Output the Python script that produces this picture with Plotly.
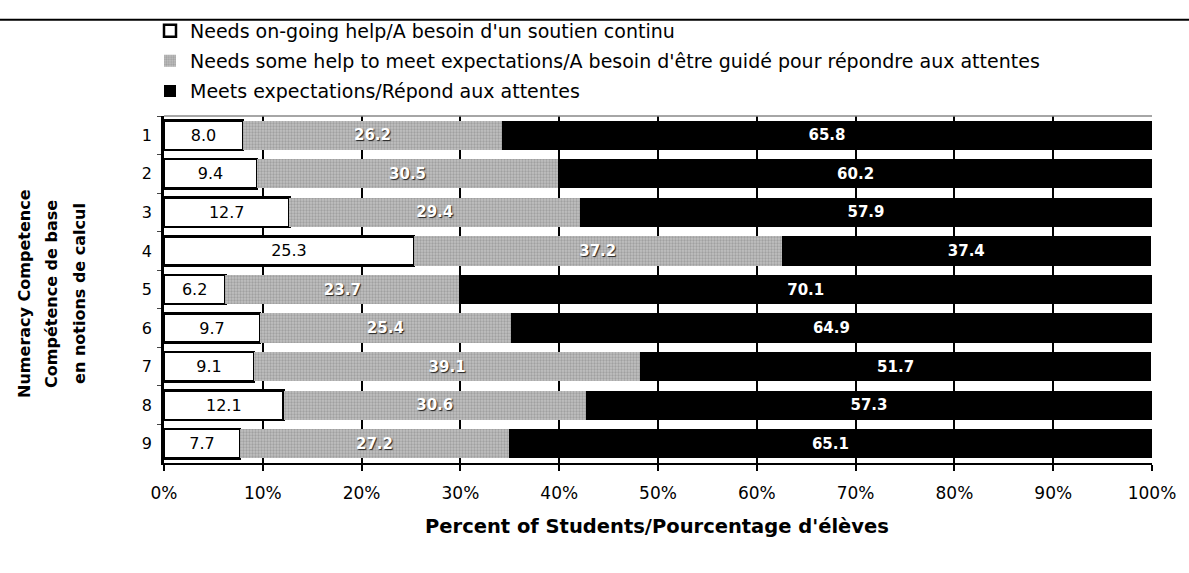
import plotly.graph_objects as go

competences = ["1", "2", "3", "4", "5", "6", "7", "8", "9"]
ongoing_help = [8.0, 9.4, 12.7, 25.3, 6.2, 9.7, 9.1, 12.1, 7.7]
some_help = [26.2, 30.5, 29.4, 37.2, 23.7, 25.4, 39.1, 30.6, 27.2]
meets = [65.8, 60.2, 57.9, 37.4, 70.1, 64.9, 51.7, 57.3, 65.1]
series_names = [
    "Needs on-going help/A besoin d'un soutien continu",
    "Needs some help to meet expectations/A besoin d'être guidé pour répondre aux attentes",
    "Meets expectations/Répond aux attentes",
]
y_title_lines = ["Numeracy Competence", "Compétence de base", "en notions de calcul"]
x_title = "Percent of Students/Pourcentage d'élèves"
x_ticks = [0, 10, 20, 30, 40, 50, 60, 70, 80, 90, 100]

FONT = "DejaVu Sans, Arial, sans-serif"
W, H = 1189, 573
L, R, T, B = 164, 37, 110, 110
pw, ph = W - L - R, H - T - B

fig = go.Figure()
fig.add_trace(go.Bar(
    y=competences, x=ongoing_help, orientation="h", name=series_names[0],
    legendgroup="a",
    marker=dict(color="white", line=dict(color="black", width=2.5)),
    text=[f"{v:.1f}" for v in ongoing_help], textposition="inside",
    insidetextanchor="middle",
    textfont=dict(color="black", size=16, family=FONT),
))
fig.add_trace(go.Bar(
    y=competences, x=some_help, orientation="h", name=series_names[1],
    legendgroup="b",
    marker=dict(color="#b0b0b0", line=dict(color="#b0b0b0", width=0),
                pattern=dict(shape=".", fgcolor="#808080", bgcolor="#c0c0c0", size=3, solidity=0.45)),
    text=[f"{v:.1f}" for v in some_help], textposition="inside",
    insidetextanchor="middle",
    textfont=dict(color="white", size=15, family=FONT, weight="bold",
                  shadow="1px 1px 1px #222"),
))
fig.add_trace(go.Bar(
    y=competences, x=meets, orientation="h", name=series_names[2],
    legendgroup="c",
    marker=dict(color="black", line=dict(color="black", width=0)),
    text=[f"{v:.1f}" for v in meets], textposition="inside",
    insidetextanchor="middle",
    textfont=dict(color="white", size=15, family=FONT, weight="bold"),
))

fig.update_layout(
    width=W, height=H,
    margin=dict(l=L, r=R, t=T, b=B),
    barmode="stack", bargap=0.24,
    plot_bgcolor="white", paper_bgcolor="white",
    font=dict(family=FONT, size=14, color="black"),
    showlegend=True,
    legend=dict(
        x=(150 - L) / pw, y=1 + (T - 4) / ph, xanchor="left", yanchor="top",
        orientation="v", traceorder="grouped", tracegroupgap=2.5,
        font=dict(size=19, family=FONT), itemwidth=30,
        bgcolor="rgba(0,0,0,0)",
    ),
    xaxis=dict(
        range=[0, 100], tickvals=x_ticks, ticktext=[f"{v}%" for v in x_ticks],
        showgrid=True, gridcolor="black", gridwidth=2,
        showline=True, linecolor="black", linewidth=2,
        ticks="outside", ticklen=6, tickcolor="black", tickwidth=2,
        tickfont=dict(size=17), ticklabelstandoff=8,
        zeroline=False, mirror=False,
    ),
    yaxis=dict(
        autorange="reversed", type="category", tickson="boundaries",
        showline=True, linecolor="black", linewidth=2.5,
        ticks="outside", ticklen=4, tickfont=dict(size=16),
        ticklabelstandoff=6,
        showgrid=False, zeroline=False,
    ),
)

# top rule of the page and top border of the plot
fig.add_shape(type="line", xref="paper", yref="paper",
              x0=-L / pw, x1=1 + R / pw, y0=1 + (T - 12) / ph, y1=1 + (T - 12) / ph,
              line=dict(color="black", width=2))
fig.add_shape(type="line", xref="paper", yref="paper",
              x0=0, x1=1, y0=1, y1=1,
              line=dict(color="#888", width=1.5))

for px, line in zip([25, 52, 80], y_title_lines):
    fig.add_annotation(
        xref="paper", yref="paper", x=(px - L) / pw, y=(H - B - 291) / ph,
        text=f"<b>{line}</b>", showarrow=False, textangle=-90,
        font=dict(size=16), xanchor="center", yanchor="middle",
    )
fig.add_annotation(
    xref="paper", yref="paper", x=(657 - L) / pw, y=(H - B - 528) / ph,
    text=f"<b>{x_title}</b>",
    showarrow=False, font=dict(size=19.5), yanchor="middle",
)

fig.write_html("out.html")
